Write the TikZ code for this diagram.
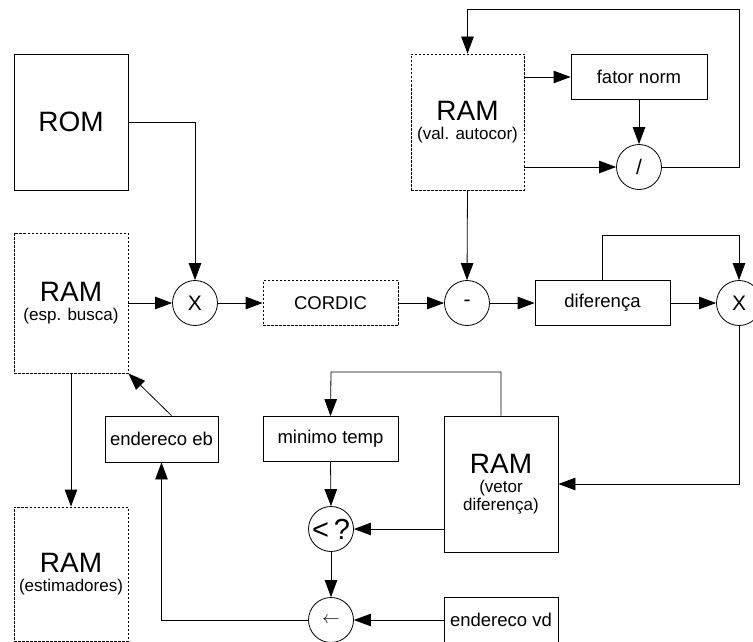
\documentclass[tikz,border=0pt]{standalone}
\usepackage{fontspec}
\setmainfont{Liberation Sans}
\usetikzlibrary{arrows.meta}
\tikzset{
  blk/.style={draw, line width=0.8pt, minimum width=#1, inner sep=0pt, align=center, font=\fontsize{18.5}{21}\selectfont},
  dblk/.style={blk=#1, dash pattern=on 2.5pt off 1.5pt},
  op/.style={draw, circle, line width=0.8pt, minimum size=45pt, inner sep=0pt, font=\fontsize{21}{24}\selectfont},
  arr/.style={-{Triangle[length=17pt,width=12.5pt]}},
}
\newcommand{\bigtxt}[1]{{\fontsize{28}{28}\selectfont #1}}
\newcommand{\subtxt}[1]{{\fontsize{17}{20}\selectfont #1}}
\begin{document}
\begin{tikzpicture}[x=1pt, y=-1pt, line width=0.8pt]
\useasboundingbox (0,0) rectangle (753,642);

\node[blk=114pt, minimum height=136pt] (rom) at (71,122) {\bigtxt{ROM}};
\node[dblk=114pt, minimum height=140pt] (rambusca) at (71,303) {\bigtxt{RAM}\\[-2pt]\subtxt{(esp. busca)}};
\node[dblk=114pt, minimum height=134pt] (ramest) at (71,574) {\bigtxt{RAM}\\[-2pt]\subtxt{(estimadores)}};
\node[dblk=113pt, minimum height=136pt] (ramauto) at (467.5,122) {\bigtxt{RAM}\\[-2pt]\subtxt{(val. autocor)}};
\node[blk=136pt, minimum height=45pt] (fator) at (639,77) {fator norm};
\node[op] (div) at (639,167) {/};
\node[op] (mx) at (195,303) {X};
\node[dblk=135pt, minimum height=45pt] (cordic) at (330.5,303) {CORDIC};
\node[op] (minus) at (467,303) {-};
\node[blk=135pt, minimum height=45pt] (dif) at (602.5,303) {diferença};
\node[op] (mx2) at (739,303) {X};
\node[blk=114pt, minimum height=136pt] (ramvet) at (501,484) {\bigtxt{RAM}\\[-2pt]\subtxt{(vetor}\\[-3pt]\subtxt{diferença)}};
\node[blk=135pt, minimum height=45pt] (minimo) at (330.5,439) {minimo temp};
\node[blk=113pt, minimum height=46pt] (endeb) at (161.5,439) {endereco eb};
\node[blk=114pt, minimum height=45pt] (endvd) at (501,620) {endereco vd};
\node[op, font=\fontsize{29}{30}\selectfont] (less) at (331,529) {<\,?};
\node[op, font=\fontsize{17}{19}\selectfont] (larrow) at (331,620) {\raisebox{-4pt}{$\leftarrow$}};

\coordinate (fbtop) at (739,9);
\coordinate (diftop) at (602,235);
\coordinate (vettop) at (331,372);

\draw[arr] (rom.east) -| (mx.north);
\draw[arr] (rambusca.east) -- (mx.west);
\draw[arr] (mx.east) -- (cordic.west);
\draw[arr] (cordic.east) -- (minus.west);
\draw[arr] (minus.east) -- (dif.west);
\draw[arr] (dif.east) -- (mx2.west);
\draw[arr] (ramauto.south) -- (minus.north);
\draw[arr] (ramauto.east |- fator.west) -- (fator.west);
\draw[arr] (ramauto.east |- div.west) -- (div.west);
\draw[arr] (fator.south) -- (div.north);
\draw[arr] (div.east) -| (fbtop) -| (ramauto.north);
\draw[arr] (dif.north |- diftop) -| (mx2.north);
\draw (dif.north) -- (dif.north |- diftop);
\draw[arr] (mx2.south) |- (ramvet.east);
\draw[arr] (ramvet.north) |- (vettop) -- (minimo.north);
\draw[arr] (ramvet.west |- less.east) -- (less.east);
\draw[arr] (minimo.south) -- (less.north);
\draw[arr] (less.south) -- (larrow.north);
\draw[arr] (endvd.west) -- (larrow.east);
\draw[arr] (larrow.west) -| (endeb.south);
\draw[arr] ([xshift=10pt]endeb.north) -- (rambusca.south east);
\draw[arr] (rambusca.south) -- (ramest.north);
\end{tikzpicture}
\end{document}
